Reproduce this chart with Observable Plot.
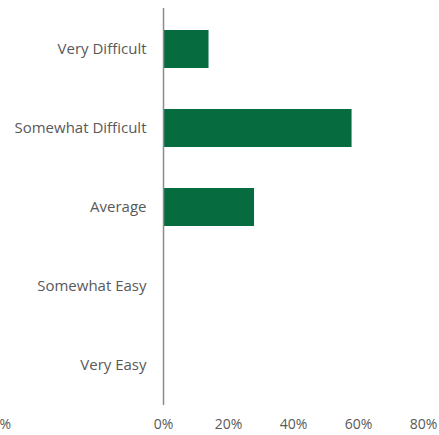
<!DOCTYPE html>
<html>
<head>
<meta charset="utf-8">
<script src="https://cdn.jsdelivr.net/npm/d3@7"></script>
<script src="https://cdn.jsdelivr.net/npm/@observablehq/plot@0.6"></script>
<style>
  html, body { margin: 0; padding: 0; background: #fff; }
</style>
</head>
<body>
<div id="chart"></div>
<script>
const categories = ["Very Difficult", "Somewhat Difficult", "Average", "Somewhat Easy", "Very Easy"];
const values = [14, 58, 28, 0, 0];
const tickValues = [0, 20, 40, 60, 80];
const edgeTick = [-50];
const xDomain = [-50.15, 84.9];

const data = categories.map((c, i) => ({category: c, value: values[i]}));
const fmt = d => d + "%";

const chart = Plot.plot({
  width: 439,
  height: 435,
  marginLeft: 0,
  marginRight: 0,
  marginTop: 8,
  marginBottom: 30,
  style: {fontFamily: "'Open Sans', sans-serif", fontSize: "14px", color: "#595959", background: "#fff"},
  x: {domain: xDomain},
  y: {domain: categories, paddingInner: 0.52, paddingOuter: 0.26, axis: null},
  marks: [
    Plot.barX(data, {x: "value", y: "category", fill: "#066b3f"}),
    Plot.ruleX([0], {stroke: "#8c8c8c", strokeWidth: 1.5}),
    Plot.text(data, {x: 0, y: "category", text: "category", textAnchor: "end", dx: -17, fill: "#595959", fontSize: 15}),
    Plot.axisX({ticks: tickValues, tickFormat: fmt, tickSize: 0, tickPadding: 14, fontSize: 14, label: null}),
    Plot.axisX({ticks: edgeTick, tickFormat: fmt, tickSize: 0, tickPadding: 14, fontSize: 14, label: null, textAnchor: "end", dx: 10})
  ]
});
document.getElementById("chart").appendChild(chart);
</script>
</body>
</html>
